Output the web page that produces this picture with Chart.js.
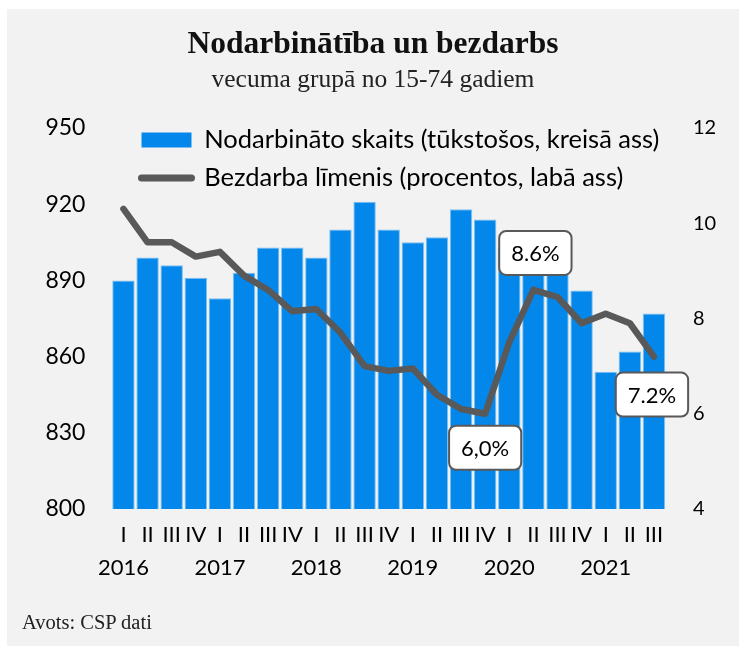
<!DOCTYPE html>
<html>
<head>
<meta charset="utf-8">
<script src="https://cdn.jsdelivr.net/npm/chart.js@4.4.0/dist/chart.umd.min.js"></script>
<style>
  html, body { margin: 0; padding: 0; background: #fff; }
  #panel { position: absolute; left: 7px; top: 9px; width: 732px; height: 637px; background: #f2f2f2; }
  #note { position: absolute; left: 15px; top: 602px; font: 20.5px "Liberation Serif", serif; color: #222; }
</style>
</head>
<body>
<div id="panel">
  <canvas id="myChart"></canvas>
  <div id="note">Avots: CSP dati</div>
</div>
<script>
const quarters = ['I', 'II', 'III', 'IV', 'I', 'II', 'III', 'IV', 'I', 'II', 'III', 'IV',
                  'I', 'II', 'III', 'IV', 'I', 'II', 'III', 'IV', 'I', 'II', 'III'];
const years = ['2016', '', '', '', '2017', '', '', '', '2018', '', '', '',
               '2019', '', '', '', '2020', '', '', '', '2021', '', ''];
const employed = [890, 899, 896, 891, 883, 893, 903, 903, 899, 910, 921, 910,
                  905, 907, 918, 914, 903, 894, 896, 886, 854, 862, 877];
const unemployment = [10.3, 9.6, 9.6, 9.3, 9.4, 8.9, 8.6, 8.15, 8.2, 7.7, 7.0, 6.9,
                      6.95, 6.4, 6.1, 6.0, 7.5, 8.6, 8.45, 7.9, 8.1, 7.9, 7.2];
const calloutIdx = [15, 17, 22];
const calloutText = ['6,0%', '8.6%', '7.2%'];

// legend sits inside the plot, top left
const legendShift = {
  id: 'legendShift',
  afterLayout(chart) {
    const lg = chart.legend;
    lg.left = 122;
    lg.top = 105.75;
    lg.right = chart.width;
    lg.bottom = chart.height;
    lg.width = lg.right - lg.left;
    lg.height = lg.bottom - lg.top;
  }
};

// boxed value labels on the line
const callouts = {
  id: 'callouts',
  afterDatasetsDraw(chart) {
    const meta = chart.getDatasetMeta(1);
    const c = chart.ctx;
    const shift = [[0, 34], [2, -37], [-2, 38]];
    c.save();
    c.font = '22px Lato';
    c.textAlign = 'center';
    c.textBaseline = 'middle';
    calloutIdx.forEach((idx, k) => {
      const pt = meta.data[idx];
      const cx = pt.x + shift[k][0];
      const cy = pt.y + shift[k][1];
      const w = c.measureText(calloutText[k]).width + 24;
      const h = 44;
      c.beginPath();
      c.roundRect(cx - w / 2, cy - h / 2, w, h, 7);
      c.fillStyle = '#fff';
      c.fill();
      c.lineWidth = 2;
      c.strokeStyle = '#595959';
      c.stroke();
      c.fillStyle = '#000';
      c.fillText(calloutText[k], cx, cy + 1);
    });
    c.restore();
  }
};

const ctx = document.getElementById('myChart');
const myChart = new Chart(ctx, {
  data: {
    labels: quarters.map((q, i) => [q, years[i]]),
    datasets: [{
      type: 'bar',
      label: 'Nodarbināto skaits (tūkstošos, kreisā ass)',
      data: employed,
      yAxisID: 'y',
      backgroundColor: '#0487ea',
      borderColor: '#7cc0f2',
      borderWidth: 1,
      barPercentage: 0.93,
      categoryPercentage: 1,
      order: 1
    }, {
      type: 'line',
      label: 'Bezdarba līmenis (procentos, labā ass)',
      data: unemployment,
      yAxisID: 'y2',
      borderColor: '#595959',
      backgroundColor: '#595959',
      borderWidth: 6.5,
      pointRadius: 0,
      tension: 0,
      borderCapStyle: 'round',
      borderJoinStyle: 'round',
      order: 0
    }]
  },
  options: {
    responsive: true,
    maintainAspectRatio: false,
    animation: false,
    layout: { padding: 0 },
    plugins: {
      title: {
        display: true,
        text: 'Nodarbinātība un bezdarbs',
        color: '#111',
        font: { family: 'Liberation Serif', size: 31.5, weight: 'bold', lineHeight: 1.2 },
        padding: { top: 17, bottom: 1 }
      },
      subtitle: {
        display: true,
        text: 'vecuma grupā no 15-74 gadiem',
        color: '#222',
        font: { family: 'Liberation Serif', size: 25.5, lineHeight: 1.2 },
        padding: { top: 0, bottom: 32.6 }
      },
      legend: {
        position: 'chartArea',
        align: 'start',
        labels: {
          color: '#000',
          font: { family: 'Lato', size: 25.5 },
          usePointStyle: true,
          pointStyleWidth: 50,
          boxHeight: 15,
          padding: 12.5,
          generateLabels(chart) {
            const items = Chart.defaults.plugins.legend.labels.generateLabels(chart);
            items.sort((a, b) => a.datasetIndex - b.datasetIndex);
            items[0].pointStyle = 'rect';
            items[0].lineWidth = 0;
            items[1].pointStyle = 'line';
            items[1].lineWidth = 7;
            items[1].lineCap = 'round';
            return items;
          }
        }
      },
      tooltip: { enabled: false }
    },
    scales: {
      x: {
        grid: { display: false, drawTicks: false },
        border: { display: false },
        ticks: {
          color: '#000',
          font: { family: 'Lato', size: 22, lineHeight: 1.5 },
          padding: 9.5,
          maxRotation: 0,
          autoSkip: false
        },
        afterFit(s) { s.height = 137; }
      },
      y: {
        position: 'left',
        min: 800,
        max: 950,
        grid: { display: false, drawTicks: false },
        border: { display: false },
        ticks: {
          stepSize: 30,
          color: '#000',
          font: { family: 'Lato', size: 23 },
          padding: 26
        },
        afterFit(s) { s.width = 104.4; }
      },
      y2: {
        position: 'right',
        min: 4,
        max: 12,
        grid: { display: false, drawTicks: false },
        border: { display: false },
        ticks: {
          stepSize: 2,
          color: '#000',
          font: { family: 'Lato', size: 20 },
          padding: 27
        },
        afterFit(s) { s.width = 73; }
      }
    }
  },
  plugins: [legendShift, callouts]
});
</script>
</body>
</html>
